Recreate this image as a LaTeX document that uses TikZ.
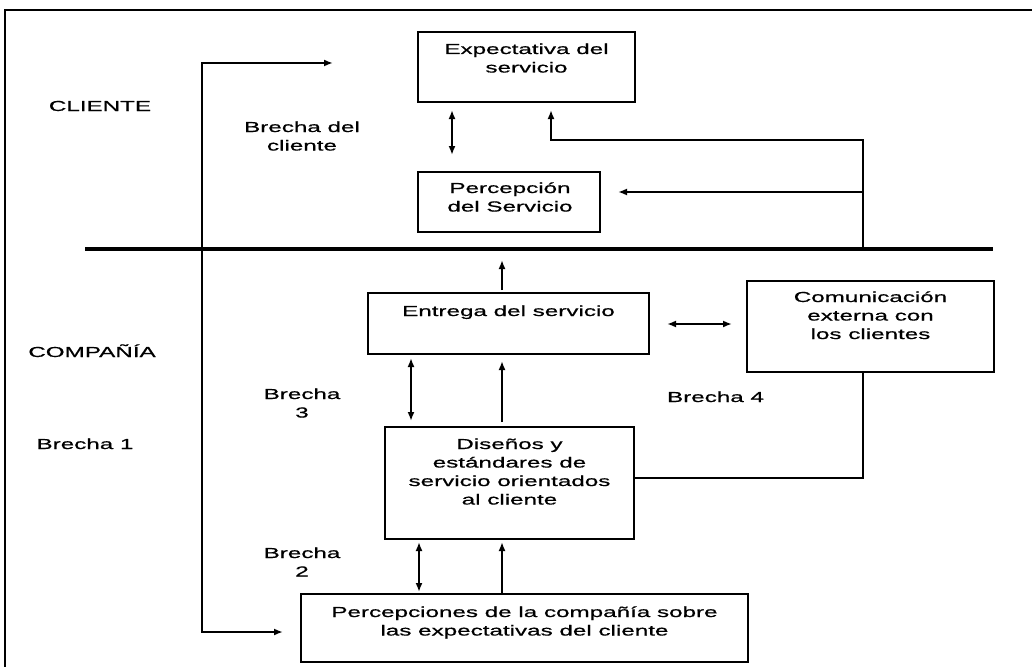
\documentclass[tikz,border=0pt]{standalone}
\usepackage{fontspec}
\setmainfont{Liberation Sans}
\newfontfamily\wf[FakeStretch=1.67,FakeBold=0.7]{Liberation Sans}
\usetikzlibrary{arrows.meta}
\tikzset{
  box/.style={draw, line width=1.8pt, inner sep=0pt, outer sep=0pt},
  txt/.style={inner sep=0pt, anchor=base, align=center, font=\wf\fontsize{14.5}{18.5}\selectfont},
  conn/.style={line width=2pt},
  arr/.style={conn, -{Latex[length=9pt,width=7pt]}},
  darr/.style={conn, {Latex[length=9pt,width=7pt]}-{Latex[length=9pt,width=7pt]}},
}
\begin{document}
\begin{tikzpicture}[x=1pt,y=-1pt]
\useasboundingbox (0,0) rectangle (1032,666);
% frame
\draw[line width=2.2pt] (5,690) -- (5,10) -- (1045,10);
% divider
\coordinate (dl) at (85,249);
\coordinate (dr) at (993,249);
\draw[line width=4pt] (dl) -- (dr);
% boxes
\node[box, minimum width=217pt, minimum height=70pt] (exp) at (526.5,67) {};
\node[box, minimum width=182pt, minimum height=60pt] (per) at (509,202) {};
\node[box, minimum width=281pt, minimum height=61pt] (ent) at (508.5,323.5) {};
\node[box, minimum width=247pt, minimum height=91pt] (com) at (870.5,326.5) {};
\node[box, minimum width=249pt, minimum height=112pt] (dis) at (509.5,483) {};
\node[box, minimum width=447pt, minimum height=68pt] (pc) at (524.5,628) {};
% texts (base = last line)
\node[txt] (texp) at (526.5,72.5) {Expectativa del\\servicio};
\node[txt] (tper) at (510,211.5) {Percepción\\del Servicio};
\node[txt] (tent) at (508.5,316) {Entrega del servicio};
\node[txt] (tcom) at (870.5,339) {Comunicación\\externa con\\los clientes};
\node[txt] (tdis) at (509.5,504.5) {Diseños y\\estándares de\\servicio orientados\\al cliente};
\node[txt] (tpc) at (524.5,635.5) {Percepciones de la compañía sobre\\las expectativas del cliente};
\node[txt] (cli) at (100,111) {CLIENTE};
\node[txt] (bc) at (302,150.5) {Brecha del\\cliente};
\node[txt] (cmp) at (92,357) {COMPAÑÍA};
\node[txt] (b1) at (85,449) {Brecha 1};
\node[txt] (b3) at (302,417.5) {Brecha\\3};
\node[txt] (b2) at (302,576.5) {Brecha\\2};
\node[txt] (b4) at (715.5,402) {Brecha 4};
% Brecha 1 loop
\coordinate (b1top) at (333,63);
\coordinate (b1bot) at (283,632);
\draw[darr] (b1top) -- (202,63) -- (202,632) -- (b1bot);
% client gap
\draw[darr, shorten <=8pt, shorten >=17pt] ([xshift=-74.5pt]exp.south) -- ([xshift=-57pt]per.north);
% right feedback loop
\coordinate (fb) at (863,249);
\draw[arr, shorten >=8pt] (fb) |- (551,140) -- ([xshift=24.5pt]exp.south);
\draw[arr, shorten >=18pt] (863,192) -- (per.east |- 0,192);
% Entrega to divider
\draw[arr, shorten <=3pt, shorten >=11pt] ([xshift=-6.5pt]ent.north) -- ([xshift=-6.5pt]ent.north |- dl);
% Entrega <-> Comunicacion
\draw[darr, shorten <=18pt, shorten >=15pt] (ent.east |- 0,324) -- (com.west |- 0,324);
% Entrega <-> Disenos
\draw[darr, shorten <=4pt, shorten >=6pt] (ent.south -| 411,0) -- (dis.north -| 411,0);
\draw[arr, shorten <=5pt, shorten >=7pt] (dis.north -| 502,0) -- (ent.south -| 502,0);
% Disenos <-> Percepciones
\draw[darr, shorten <=3pt, shorten >=2pt] (dis.south -| 419,0) -- (pc.north -| 419,0);
\draw[arr, shorten >=3pt] (pc.north -| 502,0) -- (dis.south -| 502,0);
% Comunicacion to Disenos
\draw[conn] (com.south -| 863,0) |- (dis.east |- 0,478);
\end{tikzpicture}
\end{document}
